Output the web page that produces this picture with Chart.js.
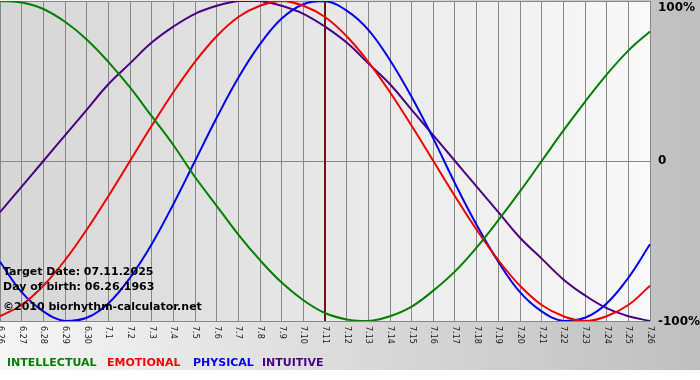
<!DOCTYPE html>
<html>
<head>
<meta charset="utf-8">
<script src="https://cdn.jsdelivr.net/npm/chart.js@4"></script>
<style>
html,body{margin:0;padding:0;background:#fff;}
#wrap{position:relative;width:700px;height:380px;overflow:hidden;}
#bg{position:absolute;left:0;top:0;width:700px;height:370px;background:linear-gradient(to right,#f6f6f6,#bfbfbf);}
#c{position:absolute;left:0;top:0;}
.t{position:absolute;font-family:"DejaVu Sans",Verdana,sans-serif;font-weight:bold;font-size:11px;line-height:11px;white-space:nowrap;color:#000;}
</style>
</head>
<body>
<div id="wrap">
  <div id="bg"></div>
  <canvas id="c" width="700" height="380"></canvas>
  <div class="t" style="left:3px;top:266px;">Target Date: 07.11.2025</div>
  <div class="t" style="left:3px;top:281px;">Day of birth: 06.26.1963</div>
  <div class="t" style="left:3px;top:301px;">©2010 biorhythm-calculator.net</div>
  <div class="t" style="left:7px;top:357px;color:#008000;">INTELLECTUAL</div>
  <div class="t" style="left:107px;top:357px;color:#ff0000;">EMOTIONAL</div>
  <div class="t" style="left:193px;top:357px;color:#0000ff;">PHYSICAL</div>
  <div class="t" style="left:262px;top:357px;color:#4b0082;">INTUITIVE</div>
</div>
<script>
// ---- data ----
const dayLabels = ['6.26','6.27','6.28','6.29','6.30','7.1','7.2','7.3','7.4','7.5','7.6','7.7','7.8','7.9','7.10','7.11','7.12','7.13','7.14','7.15','7.16','7.17','7.18','7.19','7.20','7.21','7.22','7.23','7.24','7.25','7.26'];
const intellectual = [100,99,95,87,76,62,46,28,10,-10,-28,-46,-62,-76,-87,-95,-99,-100,-97,-91,-81,-69,-54,-37,-19,0,19,37,54,69,81];
const emotional = [-97,-90,-78,-62,-43,-22,0,22,43,62,78,90,97,100,97,90,78,62,43,22,0,-22,-43,-62,-78,-90,-97,-100,-97,-90,-78];
const physical = [-63,-82,-94,-100,-98,-89,-73,-52,-27,0,27,52,73,89,98,100,94,82,63,40,14,-14,-40,-63,-82,-94,-100,-98,-89,-73,-52];
const intuitive = [-32,-16,0,16,32,48,61,74,84,92,97,100,100,97,92,84,74,61,48,32,16,0,-16,-32,-48,-61,-74,-84,-92,-97,-100];
const yTickValues = [100, 0, -100];
const yTickLabels = ['100%', '0', '-100%'];
const targetLabel = '7.11';

const plotBg = {
  id: 'plotBg',
  beforeDraw(chart) {
    const {ctx, chartArea: a} = chart;
    const g = ctx.createLinearGradient(a.left, 0, a.right, 0);
    g.addColorStop(0, '#d6d6d6');
    g.addColorStop(1, '#f9f9f9');
    ctx.save();
    ctx.fillStyle = g;
    ctx.fillRect(a.left, a.top, a.right - a.left, a.bottom - a.top);
    ctx.restore();
  }
};

const targetLine = {
  id: 'targetLine',
  beforeDatasetsDraw(chart) {
    const {ctx, chartArea: a, scales} = chart;
    const x = scales.x.getPixelForValue(dayLabels.indexOf(targetLabel));
    ctx.save();
    ctx.strokeStyle = '#7a0f0f';
    ctx.lineWidth = 2;
    ctx.beginPath();
    ctx.moveTo(x, a.top);
    ctx.lineTo(x, a.bottom);
    ctx.stroke();
    ctx.restore();
  }
};

const customTicks = {
  id: 'customTicks',
  afterDraw(chart) {
    const {ctx, chartArea: a, scales} = chart;
    ctx.save();
    ctx.fillStyle = '#1a1a1a';
    ctx.font = '8px "DejaVu Sans", Verdana, sans-serif';
    ctx.textAlign = 'left';
    ctx.textBaseline = 'middle';
    dayLabels.forEach((lab, i) => {
      const x = scales.x.getPixelForValue(i);
      ctx.save();
      ctx.translate(x, a.bottom + 5);
      ctx.rotate(Math.PI / 2);
      ctx.fillText(lab, 0, 0);
      ctx.restore();
    });
    ctx.fillStyle = '#000';
    ctx.font = 'bold 12px "DejaVu Sans", Verdana, sans-serif';
    ctx.textBaseline = 'middle';
    yTickValues.forEach((v, i) => {
      let y = scales.y.getPixelForValue(v);
      y = Math.max(y, 7.5);
      if (v < 0) y += 1;
      ctx.fillText(yTickLabels[i], a.right + 8, y);
    });
    ctx.restore();
  }
};

new Chart(document.getElementById('c'), {
  type: 'line',
  data: {
    labels: dayLabels,
    datasets: [
      {label: 'INTELLECTUAL', data: intellectual, borderColor: '#008000'},
      {label: 'EMOTIONAL', data: emotional, borderColor: '#f00000'},
      {label: 'PHYSICAL', data: physical, borderColor: '#0000ee'},
      {label: 'INTUITIVE', data: intuitive, borderColor: '#4b0082'}
    ]
  },
  options: {
    responsive: false,
    animation: false,
    layout: {padding: {left: 0, right: 0, top: 1, bottom: 0}},
    elements: {
      point: {radius: 0},
      line: {borderWidth: 2, tension: 0.4, fill: false}
    },
    plugins: {legend: {display: false}, tooltip: {enabled: false}},
    scales: {
      x: {
        offset: false,
        grid: {color: '#888', drawTicks: false, offset: false},
        border: {display: false},
        ticks: {display: false},
        afterFit(s) { s.height = 59; }
      },
      y: {
        position: 'right',
        min: -100, max: 100,
        ticks: {display: false, stepSize: 100},
        grid: {color: '#888', drawTicks: false},
        border: {display: false},
        afterFit(s) { s.width = 50; }
      }
    }
  },
  plugins: [plotBg, targetLine, customTicks]
});
</script>
</body>
</html>
